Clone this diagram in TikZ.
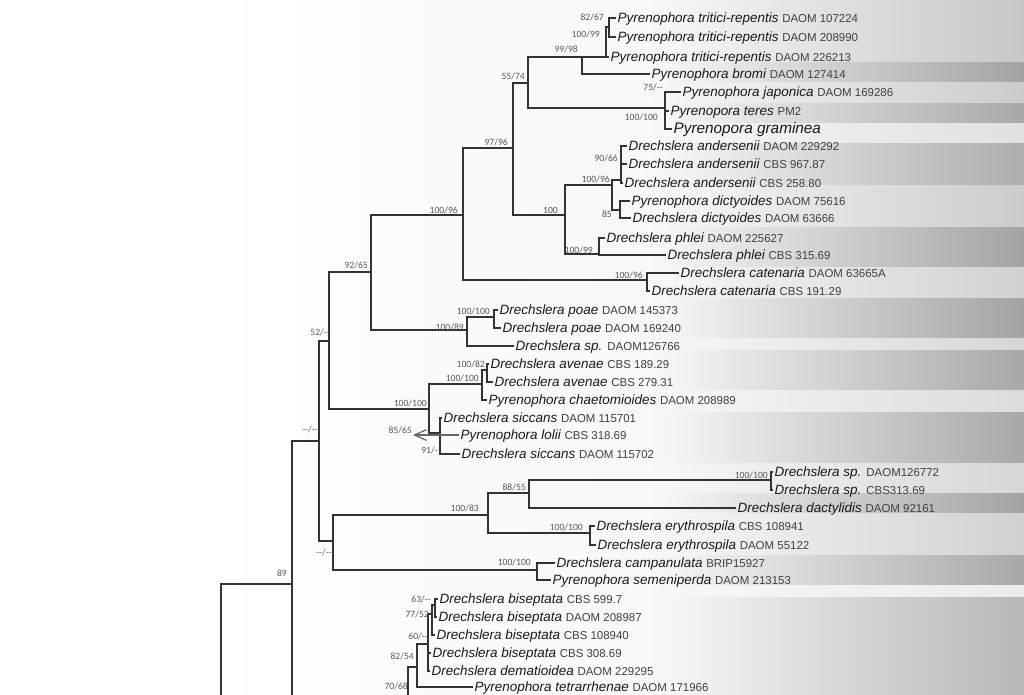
\documentclass[tikz,border=0pt]{standalone}
\usepackage{fontspec}
\setmainfont{Liberation Sans}
\newfontfamily\supfont{Carlito}
\usetikzlibrary{arrows.meta}
\tikzset{
	branch/.style={draw=black!80, line width=0.9pt},
	taxon/.style={
		anchor=west,
		inner sep=1pt,
		text height=1.6ex,
		text depth=.4ex,
		text=black!90,
		font=\fontsize{10.1}{12}\selectfont\itshape},
	support/.style={
		anchor=east,
		inner sep=0pt,
		text=black!65,
		font=\supfont\fontsize{7.2}{8}\selectfont},
	pointer/.style={draw=black!60, line width=0.9pt, {Straight Barb[length=9pt,width=8pt]}-},
}
\newcommand{\strain}[1]{{\upshape\fontsize{8.6}{10}\selectfont\color{black!75}#1}}
\newcommand{\nd}{-{}-}

\begin{document}
\begin{tikzpicture}[x=0.75pt, y=-0.75pt]
\useasboundingbox (0,0) rectangle (1024,694);
\clip (0,0) rectangle (1024,694);

% background stripes
\fill[white] (0,0) rectangle (1024,694);
\foreach \ya/\yb/\c in {0/62/22, 62/82/36, 82/103/20, 103/123/34, 123/143/12,
	143/185/32, 185/227/20, 227/267/36, 267/298/18, 298/338/36, 338/350/16,
	350/390/34, 390/412/14, 412/463/34, 463/493/16, 493/513/36, 513/555/18,
	555/585/34, 585/597/8, 597/694/28}
{
	\shade[left color=white, right color=black!3] (215,\ya) rectangle (660,\yb);
	\shade[left color=black!3, right color=black!\c] (660,\ya) rectangle (1024,\yb);
}

% taxa
\node[taxon] (trA) at (616,18) {Pyrenophora tritici-repentis \strain{DAOM 107224}};
\node[taxon] (trB) at (616,37) {Pyrenophora tritici-repentis \strain{DAOM 208990}};
\node[taxon] (trC) at (609,57) {Pyrenophora tritici-repentis \strain{DAOM 226213}};
\node[taxon] (bromi) at (650,74) {Pyrenophora bromi \strain{DAOM 127414}};
\node[taxon] (japon) at (681,92) {Pyrenophora japonica \strain{DAOM 169286}};
\node[taxon] (teres) at (669,111) {Pyrenopora teres \strain{PM2}};
\node[taxon, font=\fontsize{11.5}{13}\selectfont\itshape] (gram) at (672,129) {Pyrenopora graminea};
\node[taxon] (andA) at (627,146) {Drechslera andersenii \strain{DAOM 229292}};
\node[taxon] (andB) at (627,164) {Drechslera andersenii \strain{CBS 967.87}};
\node[taxon] (andC) at (623,183) {Drechslera andersenii \strain{CBS 258.80}};
\node[taxon] (dictA) at (630,201) {Pyrenophora dictyoides \strain{DAOM 75616}};
\node[taxon] (dictB) at (631,218) {Drechslera dictyoides \strain{DAOM 63666}};
\node[taxon] (phlA) at (605,238) {Drechslera phlei \strain{DAOM 225627}};
\node[taxon] (phlB) at (666,255) {Drechslera phlei \strain{CBS 315.69}};
\node[taxon] (catA) at (679,273) {Drechslera catenaria \strain{DAOM 63665A}};
\node[taxon] (catB) at (650,291) {Drechslera catenaria \strain{CBS 191.29}};
\node[taxon] (poaA) at (498,310) {Drechslera poae \strain{DAOM 145373}};
\node[taxon] (poaB) at (501,328) {Drechslera poae \strain{DAOM 169240}};
\node[taxon] (spA) at (514,346) {Drechslera sp. \strain{DAOM126766}};
\node[taxon] (aveA) at (489,364) {Drechslera avenae \strain{CBS 189.29}};
\node[taxon] (aveB) at (493,382) {Drechslera avenae \strain{CBS 279.31}};
\node[taxon] (chaet) at (487,400) {Pyrenophora chaetomioides \strain{DAOM 208989}};
\node[taxon] (sicA) at (442,418) {Drechslera siccans \strain{DAOM 115701}};
\node[taxon] (lolii) at (459,435) {Pyrenophora lolii \strain{CBS 318.69}};
\node[taxon] (sicB) at (460,454) {Drechslera siccans \strain{DAOM 115702}};
\node[taxon] (spB) at (773,472) {Drechslera sp. \strain{DAOM126772}};
\node[taxon] (spC) at (773,490) {Drechslera sp. \strain{CBS313.69}};
\node[taxon] (dact) at (736,508) {Drechslera dactylidis \strain{DAOM 92161}};
\node[taxon] (eryA) at (595,526) {Drechslera erythrospila \strain{CBS 108941}};
\node[taxon] (eryB) at (596,545) {Drechslera erythrospila \strain{DAOM 55122}};
\node[taxon] (camp) at (555,563) {Drechslera campanulata \strain{BRIP15927}};
\node[taxon] (semen) at (551,580) {Pyrenophora semeniperda \strain{DAOM 213153}};
\node[taxon] (bisA) at (438,599) {Drechslera biseptata \strain{CBS 599.7}};
\node[taxon] (bisB) at (437,617) {Drechslera biseptata \strain{DAOM 208987}};
\node[taxon] (bisC) at (435,635) {Drechslera biseptata \strain{CBS 108940}};
\node[taxon] (bisD) at (431,653) {Drechslera biseptata \strain{CBS 308.69}};
\node[taxon] (demat) at (430,671) {Drechslera dematioidea \strain{DAOM 229295}};
\node[taxon] (tetra) at (473,687) {Pyrenophora tetrarrhenae \strain{DAOM 171966}};

% inner nodes
\coordinate (n8267) at (609,27);
\coordinate (n10099) at (606,57);
\coordinate (n9998) at (582,57);
\coordinate (n5574) at (528,83);
\coordinate (njap) at (665,108);
\coordinate (n9796) at (513,148);
\coordinate (n100) at (565,215);
\coordinate (n10096) at (612,185);
\coordinate (n9066) at (621,180);
\coordinate (n85) at (620,210);
\coordinate (nphl) at (599,254);
\coordinate (nbig) at (463,215);
\coordinate (ncat) at (647,280);
\coordinate (n9265) at (371,272);
\coordinate (npoae) at (467,330);
\coordinate (npoaeB) at (494,317);
\coordinate (n52) at (329,341);
\coordinate (nave) at (429,409);
\coordinate (naveB) at (482,384);
\coordinate (naveC) at (487,370);
\coordinate (nsic) at (440,433);
\coordinate (lolarr) at (413,435);
\coordinate (nddA) at (319,441);
\coordinate (nddB) at (333,541);
\coordinate (n10083) at (488,515);
\coordinate (n8855) at (529,493);
\coordinate (nsp) at (771,480);
\coordinate (nery) at (590,533);
\coordinate (ncam) at (537,570);
\coordinate (n89) at (292,584);
\coordinate (n63) at (435,605);
\coordinate (n7752) at (432,614);
\coordinate (n60) at (428,644);
\coordinate (n8254) at (417,667);
\coordinate (n7068) at (408,710);
\coordinate (nbis) at (380,740);
\coordinate (root) at (221,770);

% branches
\draw[branch] (n8267) |- (trA.west) (n8267) |- (trB.west);
\draw[branch] (n10099) |- (n8267) (n10099) |- (trC.west);
\draw[branch] (n9998) |- (n10099) (n9998) |- (bromi.west);
\draw[branch] (njap) |- (japon.west) (njap) |- (teres.west) (njap) |- (gram.west);
\draw[branch] (n5574) |- (n9998) (n5574) |- (njap);
\draw[branch] (n9066) |- (andA.west) (n9066) |- (andB.west) (n9066) |- (andC.west);
\draw[branch] (n85) |- (dictA.west) (n85) |- (dictB.west);
\draw[branch] (n10096) |- (n9066) (n10096) |- (n85);
\draw[branch] (nphl) |- (phlA.west) (nphl) |- (phlB.west);
\draw[branch] (n100) |- (n10096) (n100) |- (nphl);
\draw[branch] (n9796) |- (n5574) (n9796) |- (n100);
\draw[branch] (ncat) |- (catA.west) (ncat) |- (catB.west);
\draw[branch] (nbig) |- (n9796) (nbig) |- (ncat);
\draw[branch] (npoaeB) |- (poaA.west) (npoaeB) |- (poaB.west);
\draw[branch] (npoae) |- (npoaeB) (npoae) |- (spA.west);
\draw[branch] (n9265) |- (nbig) (n9265) |- (npoae);
\draw[branch] (naveC) |- (aveA.west) (naveC) |- (aveB.west);
\draw[branch] (naveB) |- (naveC) (naveB) |- (chaet.west);
\draw[branch] (nsic) |- (sicA.west) (nsic) |- (sicB.west);
\draw[pointer] (lolarr) -- (lolii.west);
\draw[branch] (nave) |- (naveB) (nave) |- (nsic);
\draw[branch] (n52) |- (n9265) (n52) |- (nave);
\draw[branch] (nsp) |- (spB.west) (nsp) |- (spC.west);
\draw[branch] (n8855) |- (nsp) (n8855) |- (dact.west);
\draw[branch] (nery) |- (eryA.west) (nery) |- (eryB.west);
\draw[branch] (n10083) |- (n8855) (n10083) |- (nery);
\draw[branch] (ncam) |- (camp.west) (ncam) |- (semen.west);
\draw[branch] (nddB) |- (n10083) (nddB) |- (ncam);
\draw[branch] (nddA) |- (n52) (nddA) |- (nddB);
\draw[branch] (n63) |- (bisA.west) (n63) |- (bisB.west);
\draw[branch] (n7752) |- (n63) (n7752) |- (bisC.west);
\draw[branch] (n60) |- (n7752) (n60) |- (bisD.west) (n60) |- (demat.west);
\draw[branch] (n8254) |- (n60) (n8254) |- (tetra.west);
\draw[branch] (n7068) |- (n8254);
\draw[branch] (nbis) |- (n7068);
\draw[branch] (n89) |- (nddA) (n89) |- (nbis);
\draw[branch] (root) |- (n89);

% support values
\node[support] (s1) at (604,17) {82/67};
\node[support] (s2) at (600,34) {100/99};
\node[support] (s3) at (578,49) {99/98};
\node[support] (s4) at (525,76) {55/74};
\node[support] (s5) at (663,87) {75/\nd};
\node[support] (s6) at (658,117) {100/100};
\node[support] (s7) at (508,142) {97/96};
\node[support] (s8) at (618,158) {90/66};
\node[support] (s9) at (610,179) {100/96};
\node[support] (s10) at (558,210) {100};
\node[support] (s11) at (612,214) {85};
\node[support] (s12) at (593,250) {100/99};
\node[support] (s13) at (458,210) {100/96};
\node[support] (s14) at (643,275) {100/96};
\node[support] (s15) at (368,265) {92/65};
\node[support] (s16) at (490,311) {100/100};
\node[support] (s17) at (464,327) {100/89};
\node[support] (s18) at (330,332) {52/\nd};
\node[support] (s19) at (485,364) {100/82};
\node[support] (s20) at (479,378) {100/100};
\node[support] (s21) at (427,403) {100/100};
\node[support] (s22) at (412,430) {85/65};
\node[support] (s23) at (438,450) {91/-};
\node[support] (s24) at (318,429) {\nd/\nd};
\node[support] (s25) at (768,475) {100/100};
\node[support] (s26) at (526,487) {88/55};
\node[support] (s27) at (479,508) {100/83};
\node[support] (s28) at (583,527) {100/100};
\node[support] (s29) at (332,552) {\nd/\nd};
\node[support] (s30) at (531,562) {100/100};
\node[support] (s31) at (287,573) {89};
\node[support] (s32) at (431,599) {63/\nd};
\node[support] (s33) at (429,614) {77/52};
\node[support] (s34) at (428,636) {60/\nd};
\node[support] (s35) at (414,656) {82/54};
\node[support] (s36) at (408,686) {70/68};
\end{tikzpicture}
\end{document}
